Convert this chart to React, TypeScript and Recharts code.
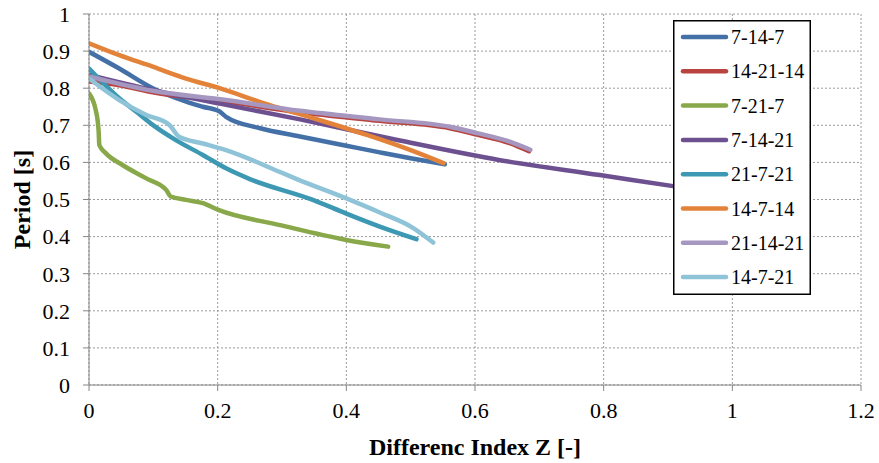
import React from 'react';
import { LineChart, Line, XAxis, YAxis, CartesianGrid, Legend } from 'recharts';

const X_TICKS = [0, 0.2, 0.4, 0.6, 0.8, 1, 1.2];
const Y_TICKS = [0, 0.1, 0.2, 0.3, 0.4, 0.5, 0.6, 0.7, 0.8, 0.9, 1];

const s7_14_7: [number, number][] = [
  [0, 0.898], [0.047, 0.853], [0.099, 0.8], [0.151, 0.764], [0.177, 0.75], [0.203, 0.737],
  [0.213, 0.723], [0.266, 0.692], [0.328, 0.67], [0.4, 0.645], [0.452, 0.627], [0.5, 0.611], [0.553, 0.595],
];
const s14_21_14: [number, number][] = [
  [0, 0.818], [0.047, 0.808], [0.099, 0.789], [0.213, 0.764], [0.328, 0.735], [0.452, 0.712],
  [0.561, 0.692], [0.603, 0.675], [0.654, 0.652], [0.684, 0.63],
];
const s7_21_7: [number, number][] = [
  [0, 0.786], [0.011, 0.737], [0.015, 0.683], [0.016, 0.647], [0.026, 0.625], [0.052, 0.593],
  [0.089, 0.557], [0.12, 0.526], [0.127, 0.508], [0.151, 0.499], [0.177, 0.49], [0.201, 0.472],
  [0.297, 0.431], [0.4, 0.391], [0.465, 0.373],
];
const s7_14_21: [number, number][] = [
  [0, 0.836], [0.099, 0.795], [0.213, 0.755], [0.328, 0.716], [0.483, 0.659], [0.639, 0.606],
  [0.794, 0.566], [0.908, 0.536], [1.0, 0.513],
];
const s21_7_21: [number, number][] = [
  [0, 0.853], [0.047, 0.773], [0.073, 0.737], [0.099, 0.701], [0.135, 0.66], [0.177, 0.62],
  [0.213, 0.584], [0.25, 0.555], [0.348, 0.499], [0.4, 0.462], [0.452, 0.427], [0.509, 0.393],
];
const s14_7_14: [number, number][] = [
  [0, 0.921], [0.047, 0.889], [0.099, 0.858], [0.151, 0.826], [0.203, 0.8], [0.271, 0.76],
  [0.328, 0.73], [0.432, 0.674], [0.5, 0.633], [0.551, 0.598],
];
const s21_14_21: [number, number][] = [
  [0, 0.832], [0.099, 0.793], [0.213, 0.768], [0.328, 0.739], [0.452, 0.716], [0.561, 0.696],
  [0.603, 0.679], [0.654, 0.656], [0.686, 0.634],
];
const s14_7_21: [number, number][] = [
  [0, 0.826], [0.047, 0.768], [0.089, 0.728], [0.125, 0.701], [0.14, 0.669], [0.177, 0.651],
  [0.213, 0.633], [0.297, 0.574], [0.323, 0.555], [0.4, 0.503], [0.452, 0.465], [0.504, 0.423], [0.535, 0.384],
];

const SERIES_NAMES = ['7-14-7', '14-21-14', '7-21-7', '7-14-21', '21-7-21', '14-7-14', '21-14-21', '14-7-21'];
const SERIES_DATA = [s7_14_7, s14_21_14, s7_21_7, s7_14_21, s21_7_21, s14_7_14, s21_14_21, s14_7_21];
const SERIES_COLORS = ['#4470A8', '#B8433F', '#89A84A', '#6D5090', '#3C98B3', '#E3833A', '#A597C0', '#8FC4D8'];

const FONT = '"Liberation Serif", "Times New Roman", serif';
const AXIS_COLOR = '#868686';

const series = SERIES_NAMES.map((name, i) => ({
  name,
  color: SERIES_COLORS[i],
  data: SERIES_DATA[i].map(([x, y]) => ({ x, y })),
}));

const renderLegend = () => (
  <svg width={138} height={275} style={{ display: 'block' }}>
    <rect x={0.75} y={0.75} width={136.5} height={273.5} fill="#fff" stroke="#000" strokeWidth={1.5} />
    {series.map((s, i) => {
      const cy = 17 + i * 34.3;
      return (
        <g key={s.name}>
          <line x1={10} x2={53} y1={cy} y2={cy} stroke={s.color} strokeWidth={4.5} strokeLinecap="round" />
          <text x={58} y={cy + 7} fontFamily={FONT} fontSize={20} fill="#000">{s.name}</text>
        </g>
      );
    })}
  </svg>
);

export default function App() {
  return (
    <div style={{ position: 'absolute', left: 0, top: 0 }}>
      <LineChart width={879} height={463} margin={{ top: 14, right: 18, bottom: 0, left: 0 }}>
        <CartesianGrid stroke="#9a9a9a" strokeDasharray="2 2" />
        <XAxis
          type="number"
          dataKey="x"
          domain={[0, 1.2]}
          ticks={X_TICKS}
          height={78}
          allowDataOverflow
          stroke={AXIS_COLOR}
          tickSize={6}
          tickMargin={11}
          tick={{ fill: '#000', fontSize: 22, fontFamily: FONT }}
          label={{
            content: (p: any) => {
              const vb = p.viewBox || { x: 89, y: 385, width: 772, height: 78 };
              return (
                <text x={vb.x + vb.width / 2} y={vb.y + 70} textAnchor="middle" fontFamily={FONT} fontWeight="bold" fontSize={24} fill="#000">
                  Differenc Index Z [-]
                </text>
              );
            },
          }}
        />
        <YAxis
          type="number"
          dataKey="y"
          domain={[0, 1]}
          ticks={Y_TICKS}
          width={89}
          allowDataOverflow
          stroke={AXIS_COLOR}
          tickSize={6}
          tickMargin={13}
          tick={{ fill: '#000', fontSize: 22, fontFamily: FONT }}
          label={{
            content: (p: any) => {
              const vb = p.viewBox || { x: 0, y: 14, width: 89, height: 371 };
              const cx = vb.x + 30;
              const cy = vb.y + vb.height / 2;
              return (
                <text x={cx} y={cy} transform={`rotate(-90 ${cx} ${cy})`} textAnchor="middle" fontFamily={FONT} fontWeight="bold" fontSize={24} fill="#000">
                  Period [s]
                </text>
              );
            },
          }}
        />
        {series.map((s) => (
          <Line
            key={s.name}
            data={s.data}
            dataKey="y"
            name={s.name}
            type="monotone"
            stroke={s.color}
            strokeWidth={4.5}
            strokeLinecap="round"
            strokeLinejoin="round"
            dot={false}
            activeDot={false}
            isAnimationActive={false}
          />
        ))}
        <Legend
          layout="vertical"
          align="center"
          verticalAlign="middle"
          content={renderLegend}
          wrapperStyle={{ left: 673, top: 20, width: 138, height: 275 }}
        />
      </LineChart>
    </div>
  );
}
